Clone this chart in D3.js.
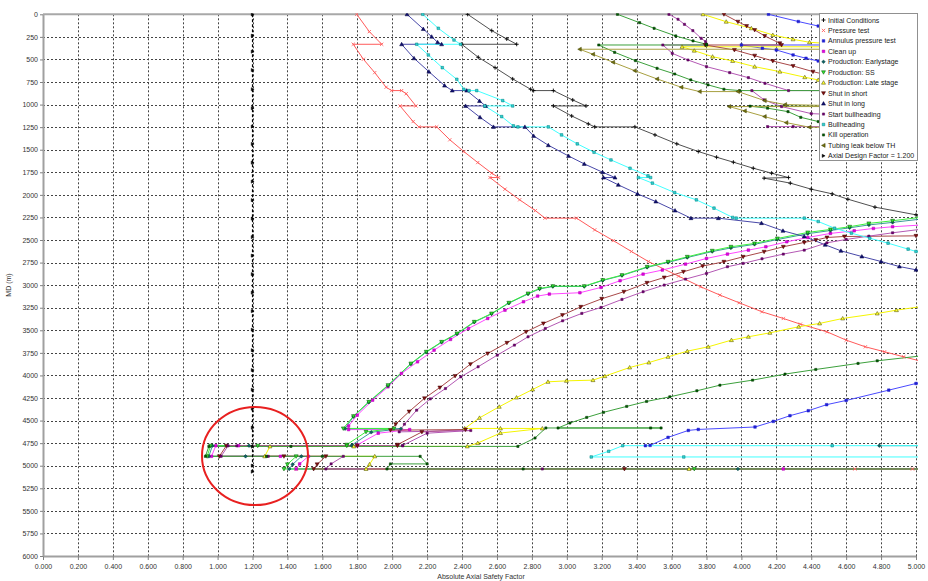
<!DOCTYPE html>
<html>
<head>
<meta charset="utf-8">
<script src="https://cdn.jsdelivr.net/npm/d3@7"></script>
<style>
  body { margin: 0; background: #fff; }
  text { font-family: "Liberation Sans", Arial, sans-serif; }
</style>
</head>
<body>
<svg id="chart" width="928" height="581"></svg>
<script>
// Axis ticks
const xTickValues = [0, 0.2, 0.4, 0.6, 0.8, 1.0, 1.2, 1.4, 1.6, 1.8, 2.0, 2.2, 2.4, 2.6, 2.8, 3.0, 3.2, 3.4, 3.6, 3.8, 4.0, 4.2, 4.4, 4.6, 4.8, 5.0];
const yTickValues = [0, 250, 500, 750, 1000, 1250, 1500, 1750, 2000, 2250, 2500, 2750, 3000, 3250, 3500, 3750, 4000, 4250, 4500, 4750, 5000, 5250, 5500, 5750, 6000];

// Load cases: [absolute axial safety factor, MD (m)]; null splits a curve
const initialConditions = [[2.432,0],[2.57,181],[2.656,273],[2.713,332],[2.398,332],[2.493,476],[2.589,591],[2.69,716],[2.793,830],[2.81,845],[2.923,845],[3.034,949],[3.11,1015],[2.923,1015],[3.028,1126],[3.123,1214],[3.16,1247],[3.39,1247],[3.505,1336],[3.63,1435],[3.753,1520],[3.858,1583],[3.954,1638],[4.068,1705],[4.173,1760],[4.27,1808],[4.13,1815],[4.28,1870],[4.40,1937],[4.52,1989],[4.61,2048],[4.765,2136],[5.0,2221],[5.6,2400]];

const pressureTest = [[1.797,0],[1.869,192],[1.94,332],[1.777,332],[1.835,498],[1.90,646],[1.965,808],[1.997,845],[2.054,845],[2.08,880],[2.136,1015],[2.045,1015],[2.12,1188],[2.153,1247],[2.255,1247],[2.33,1390],[2.41,1520],[2.49,1642],[2.57,1760],[2.61,1808],[2.56,1808],[2.646,1937],[2.73,2055],[2.82,2174],[2.875,2258],[3.056,2258],[3.16,2388],[3.266,2506],[3.37,2627],[3.467,2738],[3.64,2900],[3.767,3018],[3.877,3110],[3.987,3195],[4.118,3295],[4.24,3369],[4.338,3432],[4.49,3517],[4.60,3609],[4.71,3683],[4.82,3738],[4.93,3794],[5.02,3838],[5.6,3900],null,[5.6,5036],[4.98,5036],[4.65,5036],[1.45,5036]];

const annulusPressureTest = [[4.155,0],[4.326,80],[4.44,130],[4.62,200],[5.0,330],[5.6,340],[4.0,340],[4.12,376],[4.20,395],[4.296,450],[4.37,487],[4.44,517],[4.62,560],[5.0,660],[5.6,700],null,[3.45,4778],[3.477,4775],[3.58,4686],[3.696,4609],[3.753,4598],[4.078,4571],[4.183,4509],[4.278,4446],[4.383,4391],[4.488,4324],[4.60,4277],[4.844,4163],[5.0,4089],[5.6,3950]];

const cleanUp = [[5.6,2310],[5.02,2335],[4.866,2353],[4.756,2372],[4.646,2398],[4.51,2427],[4.38,2472],[4.26,2520],[4.14,2575],[4.04,2612],[3.92,2656],[3.80,2704],[3.68,2767],[3.547,2833],[3.437,2878],[3.305,2951],[3.196,3025],[3.075,3084],[2.9,3099],[2.833,3121],[2.752,3184],[2.646,3277],[2.547,3369],[2.437,3480],[2.334,3601],[2.24,3720],[2.145,3849],[2.053,3978],[1.976,4126],[1.888,4274],[1.80,4440],[1.75,4560],[1.75,4600],[2.10,4600],[1.92,4640],[1.80,4770],[1.80,4778],[1.12,4778],[0.99,4778],[0.965,4896],[1.36,4896],[1.52,4896],[1.47,4980],[1.45,5036],[4.24,5036],[5.6,5036]];

const productionEarly = [[5.6,2240],[5.02,2270],[4.866,2305],[4.73,2333],[4.62,2365],[4.51,2395],[4.38,2430],[4.206,2495],[4.075,2548],[3.94,2588],[3.833,2628],[3.69,2694],[3.58,2748],[3.46,2803],[3.316,2893],[3.206,2948],[3.10,3015],[2.92,3015],[2.844,3042],[2.778,3097],[2.668,3200],[2.569,3318],[2.47,3410],[2.371,3540],[2.283,3633],[2.195,3743],[2.107,3873],[1.976,4113],[1.866,4297],[1.778,4456],[1.73,4590],[2.05,4590],[1.88,4630],[1.77,4770],[1.77,4778],[1.18,4778],[0.97,4778],[0.95,4896],[1.16,4896],[1.48,4896],[1.43,4985],[1.41,5036],[3.98,5036],[5.6,5036],null,[5.6,4778],[4.79,4778]];

const productionSS = [[5.6,2220],[5.02,2250],[4.866,2287],[4.73,2316],[4.62,2353],[4.51,2383],[4.38,2416],[4.206,2483],[4.075,2538],[3.94,2575],[3.833,2619],[3.69,2686],[3.58,2741],[3.46,2797],[3.316,2889],[3.206,2944],[3.10,3011],[2.92,3011],[2.844,3037],[2.778,3092],[2.668,3195],[2.569,3314],[2.47,3406],[2.371,3535],[2.283,3628],[2.195,3738],[2.107,3868],[1.976,4108],[1.866,4292],[1.778,4451],[1.72,4587],[2.01,4587],[1.85,4625],[1.74,4767],[1.74,4778],[1.23,4778],[0.96,4778],[0.94,4896],[1.45,4896],[1.40,4985],[1.38,5036],[3.73,5036],[5.6,5036]];

const productionLate = [[3.78,0],[3.913,82],[4.057,155],[4.18,229],[4.296,277],[4.39,310],[4.55,330],[5.0,355],[5.6,360],[3.66,360],[3.73,403],[3.835,469],[3.95,517],[4.076,580],[4.22,635],[4.363,697],[4.44,727],[4.6,770],[5.6,900],null,[5.6,3200],[5.02,3240],[4.888,3277],[4.778,3314],[4.58,3369],[4.448,3424],[4.328,3461],[4.163,3528],[4.04,3572],[3.943,3609],[3.81,3683],[3.69,3731],[3.58,3794],[3.47,3857],[3.36,3912],[3.218,4008],[3.15,4052],[2.998,4060],[2.892,4071],[2.804,4156],[2.712,4245],[2.613,4347],[2.50,4470],[2.415,4587],[2.62,4587],[2.86,4587],[2.62,4638],[2.49,4749],[2.43,4786],[1.78,4786],[1.30,4786],[1.27,4896],[1.90,4896],[1.87,4985],[1.85,5036],[3.70,5036],[5.6,5036]];

const shutInShort = [[3.90,0],[3.98,82],[4.03,130],[4.076,174],[4.134,240],[4.22,321],[4.23,340],[3.793,340],[3.96,395],[4.076,458],[4.18,517],[4.296,572],[4.41,635],[4.55,700],[5.0,800],[5.6,850],null,[5.6,2450],[5.0,2454],[4.59,2461],[4.49,2472],[4.426,2501],[4.36,2527],[4.24,2575],[4.13,2630],[4.01,2686],[3.90,2741],[3.778,2789],[3.668,2852],[3.558,2915],[3.459,2974],[3.327,3073],[3.20,3151],[3.08,3240],[2.975,3332],[2.866,3424],[2.767,3517],[2.657,3639],[2.547,3757],[2.448,3875],[2.36,4006],[2.273,4134],[2.185,4253],[2.097,4400],[2.02,4540],[1.99,4606],[2.42,4600],[2.17,4626],[2.03,4767],[2.03,4778],[1.80,4778],[1.05,4778],[1.01,4896],[1.38,4896],[1.62,4896],[1.57,4985],[1.55,5036],[3.33,5036],[5.6,5036]];

const shutInLong = [[2.085,0],[2.178,163],[2.226,248],[2.26,310],[2.283,332],[2.054,332],[2.125,487],[2.21,635],[2.30,790],[2.344,845],[2.427,845],[2.50,960],[2.535,1015],[2.42,1015],[2.503,1141],[2.58,1247],[2.76,1247],[2.81,1347],[2.894,1450],[3.01,1569],[3.10,1657],[3.205,1749],[3.276,1808],[3.21,1808],[3.295,1889],[3.405,1989],[3.51,2074],[3.62,2174],[3.711,2258],[3.868,2258],[4.115,2313],[4.238,2398],[4.36,2461],[4.48,2553],[4.57,2620],[4.69,2683],[4.80,2738],[4.905,2794],[5.0,2830],[5.6,3000]];

const startBullheading = [[3.585,0],[3.637,55],[3.674,111],[3.722,181],[3.77,266],[3.795,303],[3.80,340],[3.55,340],[3.604,432],[3.694,506],[3.80,580],[3.933,646],[4.04,702],[4.135,764],[4.27,845],[5.6,845],null,[4.06,845],[4.13,948],[4.23,1022],[4.40,1100],[5.6,1200],null,[4.15,1244],[4.296,1244],[5.6,1244],null,[5.6,2370],[5.02,2383],[4.866,2420],[4.73,2457],[4.60,2494],[4.49,2531],[4.36,2612],[4.24,2656],[4.118,2708],[4.01,2759],[3.92,2796],[3.80,2870],[3.68,2933],[3.558,2999],[3.437,3073],[3.316,3158],[3.196,3247],[3.086,3313],[2.976,3395],[2.877,3480],[2.778,3572],[2.70,3664],[2.602,3775],[2.492,3904],[2.393,4016],[2.305,4145],[2.218,4260],[2.14,4385],[2.07,4540],[2.04,4625],[2.45,4610],[2.20,4640],[2.06,4775],[2.06,4780],[1.11,4780],[1.06,4780],[1.02,4896],[1.29,4896],[1.72,4896],[1.65,4980],[1.62,5036],[2.86,5036],[5.6,5036]];

const bullheading = [[2.175,0],[2.264,155],[2.354,285],[2.392,332],[2.14,332],[2.207,450],[2.287,591],[2.37,720],[2.41,830],[2.44,845],[2.484,845],[2.633,956],[2.69,1015],[2.53,1015],[2.627,1133],[2.694,1236],[2.72,1247],[2.894,1247],[2.97,1336],[3.06,1435],[3.156,1528],[3.253,1613],[3.362,1705],[3.465,1790],[3.48,1808],[3.41,1808],[3.49,1870],[3.618,1975],[3.742,2055],[3.843,2147],[3.95,2250],[3.97,2258],[4.36,2258],[4.44,2295],[4.534,2369],[4.63,2424],[4.735,2480],[4.84,2535],[4.955,2601],[5.0,2627],[5.6,2700],null,[5.6,4778],[4.52,4778],[3.32,4778],[3.24,4840],[3.14,4903],[3.67,4903],[5.6,4903]];

const killOperation = [[3.29,0],[3.417,93],[3.50,155],[3.624,240],[3.723,295],[3.80,332],[3.80,340],[3.183,340],[3.274,421],[3.393,513],[3.517,598],[3.618,661],[3.71,727],[3.809,782],[3.90,830],[3.99,845],[5.6,845],null,[5.6,1018],[4.05,1018],[4.15,1040],[4.267,1078],[4.34,1141],[4.44,1188],[4.6,1230],[5.6,1350],null,[5.6,3700],[5.02,3786],[4.778,3838],[4.668,3867],[4.426,3934],[4.25,3985],[4.064,4052],[3.877,4108],[3.745,4170],[3.59,4237],[3.457,4288],[3.343,4343],[3.21,4409],[3.114,4465],[3.018,4527],[2.95,4582],[3.48,4582],[3.54,4582],[2.88,4582],[2.818,4693],[2.72,4786],[1.42,4786],[0.95,4786],[0.93,4896],[1.28,4896],[1.60,4896],[2.16,4896],[2.2,4980],[1.99,4980],[1.97,5036],[2.75,5036],[5.6,5036]];

const tubingLeak = [[5.6,387],[3.074,387],[3.15,443],[3.265,531],[3.389,624],[3.517,716],[3.656,808],[3.761,856],[3.98,856],[4.133,956],[4.25,1000],[4.5,1010],[5.6,1022],[3.93,1022],[4.019,1070],[4.133,1133],[4.257,1200],[4.39,1251],[5.6,1251]];

// Axial design factor line and its marker depths
const designFactor = 1.2;
const designFactorMD = [0, 237, 414, 617, 830, 1040, 1244, 1436, 1643, 1853, 2058, 2263, 2468, 2673, 2878, 3083, 3288, 3493, 3720, 3940, 4158, 4368, 4579, 4789, 4999, 5066];

const legendNames = ["Initial Conditions", "Pressure test", "Annulus pressure test", "Clean up", "Production: Earlystage", "Production: SS", "Production: Late stage", "Shut in short", "Shut in long", "Start bullheading", "Bullheading", "Kill operation", "Tubing leak below TH", "Axial Design Factor = 1.200"];

const series = [
  { data: initialConditions,   line: "#505050", fill: "#000000", stroke: "#000000", marker: "plus" },
  { data: pressureTest,        line: "#ff5a5a", fill: "#ff7070", stroke: "#ff6060", marker: "cross" },
  { data: annulusPressureTest, line: "#4a4aff", fill: "#2020d0", stroke: "#2020d0", marker: "square" },
  { data: cleanUp,             line: "#ff48ff", fill: "#e000e0", stroke: "#b000b0", marker: "square" },
  { data: productionEarly,     line: "#3c9a9a", fill: "#106060", stroke: "#004040", marker: "diamond" },
  { data: productionSS,        line: "#3cf03c", fill: "#30e030", stroke: "#005000", marker: "triDown" },
  { data: productionLate,      line: "#f5f500", fill: "#ffff30", stroke: "#404000", marker: "triUp" },
  { data: shutInShort,         line: "#a84848", fill: "#801010", stroke: "#400000", marker: "triDown" },
  { data: shutInLong,          line: "#4848a8", fill: "#101070", stroke: "#000040", marker: "triUp" },
  { data: startBullheading,    line: "#b458b4", fill: "#700070", stroke: "#500050", marker: "dot" },
  { data: bullheading,         line: "#40ffff", fill: "#30d0d0", stroke: "#008080", marker: "square" },
  { data: killOperation,       line: "#3ca03c", fill: "#006000", stroke: "#003000", marker: "dot" },
  { data: tubingLeak,          line: "#a8a040", fill: "#707010", stroke: "#404000", marker: "triLeft" }
];

const W = 928, H = 581;
const plot = { left: 43, right: 916, top: 14.3, bottom: 556 };

const svg = d3.select("#chart");
svg.append("rect").attr("width", W).attr("height", H).attr("fill", "#fff");

const x = d3.scaleLinear().domain([0, 5]).range([plot.left, plot.right]);
const y = d3.scaleLinear().domain([0, 6000]).range([plot.top, plot.bottom]);

svg.append("defs").append("clipPath").attr("id", "plotClip")
  .append("rect")
  .attr("x", plot.left).attr("y", plot.top - 1)
  .attr("width", plot.right - plot.left + 2).attr("height", plot.bottom - plot.top + 1);

// Dotted grid
const grid = svg.append("g");
grid.selectAll("line.vx").data(xTickValues.slice(1)).join("line")
  .attr("x1", d => Math.round(x(d)) + 0.5).attr("x2", d => Math.round(x(d)) + 0.5)
  .attr("y1", plot.top).attr("y2", plot.bottom)
  .attr("stroke", "#444").attr("stroke-width", 1).attr("stroke-dasharray", "2,2");
grid.selectAll("line.hy").data(yTickValues.slice(1, -1)).join("line")
  .attr("y1", d => Math.round(y(d)) + 0.5).attr("y2", d => Math.round(y(d)) + 0.5)
  .attr("x1", plot.left).attr("x2", plot.right + 2)
  .attr("stroke", "#444").attr("stroke-width", 1).attr("stroke-dasharray", "2,2");

// Axes
const xAxis = d3.axisBottom(x).tickValues(xTickValues).tickFormat(d3.format(".3f")).tickSize(4).tickSizeOuter(0);
const gx = svg.append("g").attr("transform", `translate(0,${plot.bottom})`).call(xAxis);
gx.select(".domain").attr("stroke", "#a0a0a0").attr("stroke-width", 2);
gx.selectAll(".tick line").attr("stroke", "#808080");
gx.selectAll(".tick text").attr("font-size", 7).attr("fill", "#333").attr("dy", "0.9em").attr("font-family", "Liberation Sans, Arial, sans-serif");

const yAxis = d3.axisLeft(y).tickValues(yTickValues).tickFormat(d3.format("d")).tickSize(3).tickSizeOuter(0);
const gy = svg.append("g").attr("transform", `translate(${plot.left},0)`).call(yAxis);
gy.select(".domain").attr("stroke", "#a0a0a0").attr("stroke-width", 2);
gy.selectAll(".tick line").attr("stroke", "#808080");
gy.selectAll(".tick text").attr("font-size", 7).attr("fill", "#333").attr("x", -5).attr("font-family", "Liberation Sans, Arial, sans-serif");

// Top frame
svg.append("line").attr("x1", plot.left).attr("x2", plot.right + 2)
  .attr("y1", plot.top).attr("y2", plot.top)
  .attr("stroke", "#a8a8a8").attr("stroke-width", 2);

// Axis titles
svg.append("text").attr("x", 481).attr("y", 579).attr("text-anchor", "middle")
  .attr("font-size", 7).attr("fill", "#333").text("Absolute Axial Safety Factor");
svg.append("text").attr("transform", "translate(11,285) rotate(-90)").attr("text-anchor", "middle")
  .attr("font-size", 7).attr("fill", "#333").text("MD (m)");

// Marker shapes
function markerPath(type) {
  switch (type) {
    case "plus": return "M-2,0H2M0,-2V2";
    case "cross": return "M-1.6,-1.6L1.6,1.6M-1.6,1.6L1.6,-1.6";
    case "square": return "M-1.3,-1.3H1.3V1.3H-1.3Z";
    case "diamond": return "M0,-1.8L1.8,0L0,1.8L-1.8,0Z";
    case "triDown": return "M-2,-1.5H2L0,2Z";
    case "triUp": return "M-2,1.5H2L0,-2Z";
    case "triLeft": return "M1.6,-2V2L-2,0Z";
    case "triRight": return "M-1.3,-1.6V1.6L1.6,0Z";
    case "dot": return "M-1.1,-1.1H1.1V1.1H-1.1Z";
  }
}
function drawMarker(sel, type, fill, stroke) {
  const open = type === "plus" || type === "cross";
  sel.attr("d", markerPath(type))
    .attr("fill", open ? "none" : fill)
    .attr("stroke", stroke)
    .attr("stroke-width", open ? 0.9 : 0.5);
}

const lineGen = d3.line().defined(d => d !== null).x(d => x(d[0])).y(d => y(d[1]));
const plotArea = svg.append("g").attr("clip-path", "url(#plotClip)");

series.forEach(s => {
  plotArea.append("path").datum(s.data).attr("d", lineGen)
    .attr("fill", "none").attr("stroke", s.line).attr("stroke-width", 1)
    .attr("stroke-linejoin", "round");
});
series.forEach(s => {
  plotArea.append("g").selectAll("path").data(s.data.filter(d => d !== null && d[0] <= 5.02)).join("path")
    .attr("transform", d => `translate(${x(d[0])},${y(d[1])})`)
    .call(drawMarker, s.marker, s.fill, s.stroke);
});

// Axial design factor
const dfPoints = designFactorMD.map(md => [designFactor, md]);
plotArea.append("path").datum(dfPoints).attr("d", lineGen)
  .attr("fill", "none").attr("stroke", "#000").attr("stroke-width", 1.2).attr("stroke-dasharray", "3,2");
plotArea.append("g").selectAll("path").data(dfPoints).join("path")
  .attr("transform", d => `translate(${x(d[0])},${y(d[1])})`)
  .call(drawMarker, "triRight", "#000", "#000");

// Legend
const legend = svg.append("g").attr("transform", "translate(819,13)");
legend.append("rect").attr("x", 0.5).attr("y", 0.5).attr("width", 98).attr("height", 147)
  .attr("fill", "#fff").attr("stroke", "#909090").attr("stroke-width", 1);
const legendStyles = series.map(s => ({ fill: s.fill, stroke: s.stroke, marker: s.marker }))
  .concat([{ fill: "#000", stroke: "#000", marker: "triRight" }]);
legendNames.forEach((name, i) => {
  const yy = 7 + i * 10.45;
  const st = legendStyles[i];
  legend.append("path").attr("transform", `translate(4.5,${yy})`).call(drawMarker, st.marker, st.fill, st.stroke);
  legend.append("text").attr("x", 9).attr("y", yy + 2.5).attr("font-size", 7).attr("fill", "#222").text(name);
});

// Highlight around the bottom of the design-factor line
svg.append("ellipse").attr("cx", 255).attr("cy", 456).attr("rx", 53).attr("ry", 49)
  .attr("fill", "none").attr("stroke", "#e82020").attr("stroke-width", 2);
</script>
</body>
</html>
